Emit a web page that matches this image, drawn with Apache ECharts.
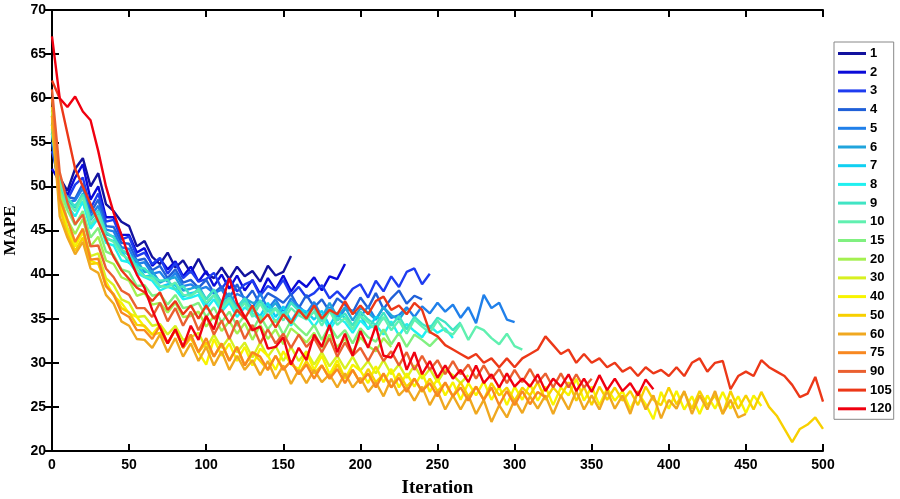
<!DOCTYPE html>
<html><head><meta charset="utf-8">
<script src="https://cdn.jsdelivr.net/npm/echarts@6/dist/echarts.min.js"></script>
<style>html,body{margin:0;padding:0;background:#fff}#c{width:900px;height:499px}</style>
</head><body><div id="c"></div>
<script>
// Iteration spacing between samples
const STEP = 5;
const legendNames = ['1','2','3','4','5','6','7','8','9','10','15','20','30','40','50','60','75','90','105','120'];
const xTicks = [0,50,100,150,200,250,300,350,400,450,500];
const yTicks = [20,25,30,35,40,45,50,55,60,65,70];
const colors = ['#12129e','#0a0ad8','#1e3cf0','#2060d8','#2080ea','#20a4dc','#10d0f2','#20f0f0','#40e4c4','#60f0b0','#80f080','#a4f050','#d8f020','#f8f400','#f8d000','#f0a820','#f88820','#ea6030','#ec3818','#f00010'];

const s1 = [55,51,49.5,52,53.2,50,51.5,48,47.2,46,45.5,43.2,43.8,42,41.2,42.5,40.8,41.6,40.2,41.8,40.1,39.6,40.8,39.5,40.9,39.8,40.4,39.2,41,39.9,40.3,42.1];
const s2 = [52,50.5,49,51,52.5,48.5,50,46.5,46.5,44.5,44.5,42.5,43,41,41.8,40.6,41.5,39.8,40.9,39.2,40.4,38.7,40,38.4,39.9,38.2,39.4,37.8,39.6,38.3,39.9,38.1,39.3,38.6,39.7,38.2,39.8,39.5,41.2];
const s3 = [54,50.5,48.5,50.2,51,47.5,49.2,46,46.2,44,44.3,42.1,42.5,41.2,41.9,40.1,41.3,39.6,40.4,39.2,39.5,40.2,38.4,39.6,38.1,38.9,39.3,37.6,38.7,38.2,39.4,37.7,38.6,37.4,37.9,38.8,37.3,38.1,37.2,38.4,38.9,37.4,39.3,38.1,39.8,38.6,40.3,40.7,38.9,40.1];
const s4 = [55,49,48.8,48.6,50.3,47,48.5,45.5,45.4,43.6,43.5,41.6,41.8,40.5,41,39.6,40.6,39.1,39.4,38.5,39.4,37.9,38.7,37.3,38.9,37.1,38.2,36.6,37.9,37.4,36.8,37.8,36.2,37.7,36.3,37.2,35.8,37.3,36.6,35.7,37.4,36.2,37.9,36.1,37.3,38.2,36.7,37.6,37.2];
const s5 = [56,49.5,48.2,48.4,49.8,46.6,47.8,45.1,44.9,43.1,42.9,41.2,41.4,40.1,40.3,39.2,40.2,38.7,38.9,38.3,38.6,37.9,38.3,36.9,37.8,37.4,36.2,37.9,36.1,37.2,35.7,37.3,36.4,35.6,36.9,35.2,36.3,34.8,36.1,35.9,35.2,36.4,34.9,36.3,35.1,35.4,36.3,35.2,36.4,35.6,36.8,35.8,36.6,35.1,36.3,34.5,37.7,36.2,36.8,34.9,34.6];
const s6 = [56,49.8,48.3,47.6,49.2,46.2,47.3,44.6,44.3,42.8,42.2,41.6,40.3,40.4,39.1,39.5,39.7,38.2,38.4,38.7,37.2,38.3,36.8,37.9,36.3,37.3,36.8,36.9,35.8,36.8,35.4,36.9,36.2,35.3,36.4,35.1,36.8,35.2,36.3,34.8,36.2,35.7,34.9,36.3,35.4,34.9,36.1];
const s7 = [57,50.2,47.6,47.9,48.2,45.6,46.8,44.1,43.8,42.7,41.3,41.2,39.8,39.9,38.6,38.9,38.8,37.5,37.9,38.1,36.6,37.7,36.2,37.4,35.8,36.9,36.1,35.3,36.8,35.2,36.4,34.7,36.1,35.8,34.9,35.9,34.2,35.7,35.1,34.3,35.4,33.8,35.2,34.9];
const s8 = [56.5,49.6,47.8,46.6,48.3,45.2,46.4,43.6,43.3,41.6,41.4,40.2,39.7,39.3,38.2,38.6,38.3,37.2,37.4,37.7,36.1,37.2,35.8,36.8,35.2,36.3,35.6,34.8,36.2,34.6,35.8,34.2,35.7,35.3,34.1,35.4,33.7,35.1,34.6,33.4,34.8,33.9,34.3,33.2,34.7,33.1,34.4,33.6,32.9,34.2,33.4,33.9,32.8];
const s9 = [57,50.1,48.7,47.7,49.1,46.3,47.2,44.8,44.2,42.8,42.3,40.8,40.7,39.8,39.3,39.4,38.3,38.7,37.6,38.4,37.2,38.3,36.6,37.4,36.1,37.3,35.8,37.1,35.9,36.2,35.3,36.8,35.9,35.4,36.2,34.7,36.1,34.8,35.6,34.2,35.8,34.9,34.3,35.7,34.2,35.3,33.8,35.2,34.4,33.9,35.1,34.6,33.7,34.6];
const s10 = [56,50.6,48.2,47.2,48.8,45.7,46.7,44.2,43.7,42.3,41.7,40.6,39.8,39.6,38.7,38.6,39.1,37.7,37.6,38.2,36.8,37.7,36.2,37.1,35.7,36.8,35.2,36.7,35.3,36.1,34.8,36.2,35.4,34.9,35.8,34.2,35.9,34.3,35.1,33.8,35.3,34.6,33.8,35.2,33.7,34.8,33.3,34.9,34.1,33.4,34.8,33.6,33.2,34.4,32.6,34.1,33.7,32.8,32.1,33.3,31.9,31.5];
const s15 = [58,49.6,47.3,45.6,47.2,44.2,45.3,42.6,42.2,40.6,40.3,38.7,38.8,37.6,37.8,36.6,37.7,36.2,36.4,36.8,35.2,36.3,34.6,35.8,34.2,35.4,33.6,35.3,33.8,34.9,33.2,34.8,33.9,33.1,34.3,32.6,34.2,32.8,33.7,32.2,33.9,32.9,32.4,33.8,32.1,33.4,31.8,33.2,32.6,31.9,32.8];
const s20 = [58.5,49.2,46.2,44.6,46.3,43.2,44.3,41.6,41.2,39.7,39.3,37.6,37.9,36.6,36.8,35.7,36.8,35.2,35.3,35.8,34.1,35.3,33.6,34.7,33.3,34.5,32.6,34.3,32.7,33.8,32.1,33.9,33.2,32.3,33.4,31.7,33.2,31.8,32.7,31.2,32.9,31.9,31.3,32.8,31.8];
const s30 = [59,48.6,45.3,43.6,45.2,42.1,42.4,39.6,38.8,37.2,36.8,35.2,35.3,34.2,34.4,33.2,34.2,32.6,32.9,33.4,31.6,33.2,31.7,32.9,31.2,32.3,30.6,32.3,30.7,31.9,30.2,31.8,30.2,31.3,29.8,31.2,29.6,30.8,29.3,30.7,29.1,30.2,28.8,30.3,28.7,29.8,28.3,29.7,28.2,29.3,27.8,29.2,28.6,27.7,28.6];
const s40 = [58,48.2,44.8,43.2,44.8,41.6,41.2,39.2,37.6,36.8,35.6,35.2,34.1,
  33.2,34.3,32.2,33.8,31.7,33.1,31.2,29.8,32.7,30.8,
  32.2,30.2,31.8,29.7,31.6,30.8,29.2,31.3,29.8,29.3,
  31.2,29.2,30.8,28.7,30.3,28.2,29.8,29.1,27.7,29.6,
  27.8,29.3,27.2,28.8,27.3,28.9,26.7,28.2,26.3,27.8,
  25.8,27.7,26.3,27.9,25.8,27.3,25.2,27.3,25.8,27.6,
  25.7,27.3,25.2,27.2,26.3,28.2,25.7,27.3,25.2,27.1,
  25.7,26.8,24.7,26.6,25.3,23.6,26.7,24.8,26.8,24.7,
  26.2,24.2,26.3,24.8,26.7,24.8,26.2,24.3,26.3,25.1];
const s50 = [57,47.6,44.6,42.7,44.2,41.2,41.3,38.7,37.8,36.2,35.7,34.3,34.2,
  33.2,33.4,32.2,33.7,31.7,32.8,31.2,32.3,30.7,32.2,
  30.3,31.8,29.7,31.2,30.2,29.2,30.8,29.3,30.2,28.7,
  30.2,28.8,29.7,28.2,29.8,28.3,29.2,27.7,29.3,27.8,
  28.7,27.2,28.8,27.3,28.2,26.7,28.2,26.8,27.7,26.2,
  27.8,26.2,27.3,25.8,27.7,26.3,27.2,25.7,27.2,26.3,
  27.8,25.8,27.2,26.2,27.8,25.7,27.3,25.2,27.3,25.8,
  27.2,25.7,26.8,25.2,27.3,25.8,25.2,27.2,25.3,26.7,
  24.8,26.8,25.2,26.3,24.2,26.8,24.8,26.3,24.7,26.7,
  25,24,22.5,21,22.5,23,23.8,22.5];
const s60 = [58,46.6,44.2,42.3,43.7,40.7,40.2,37.7,36.7,34.7,34.2,32.7,32.6,
  31.7,33.2,31.2,32.8,30.7,32.2,30.2,31.8,29.7,31.3,
  29.2,30.8,29.2,30.3,28.6,30.2,28.2,29.7,27.6,29.2,
  27.7,29.2,27.8,28.7,27.2,28.8,27.2,28.3,26.7,27.8,
  26.2,28.2,26.3,27.2,25.7,27.3,25.2,26.8,24.7,26.3,
  24.7,26.3,24.2,25.8,23.3,25.2,23.8,25.8,24.3,26.2,
  24.8,26.3,24.2,26.3,24.7,26.8,24.7,26.3,24.7,26.8,
  24.8,26.3,24.2,26.8,24.7,26.3,23.7,25.8,24.8,26.8,
  24.2,26.3,24.7,26.8,24.2,25.8,23.8,24.2];
const s75 = [60,48.6,46.2,43.7,45.2,41.7,41.8,38.7,37.7,35.7,35.2,33.7,33.7,
  32.7,34.2,32.2,33.8,31.7,33.2,31.2,32.8,30.7,32.2,
  30.2,31.8,29.7,31.2,30.7,29.2,30.8,29.2,30.2,28.7,
  29.8,28.2,29.7,28.2,29.3,27.7,29.2,27.7,28.8,27.2,
  28.8,27.2,28.3,26.7,28.2,26.8,27.7,26.2,27.8,26.2,
  27.2,25.7,27.3,25.8,27.2,25.2,26.8,25.2,26.8,25.3,
  26.7,26.1];
const s90 = [61,51.6,48.2,45.7,46.8,43.2,43.3,40.7,39.7,38.2,37.7,36.2,36.2,
  35.2,36.8,34.7,36.2,34.2,35.8,33.7,35.3,33.2,34.8,
  32.7,34.8,32.7,34.3,32.2,33.8,32.2,33.3,31.7,33.2,
  31.8,32.8,31.2,32.8,30.7,32.3,30.8,31.7,30.2,31.8,
  30.2,31.3,29.7,31.2,29.2,30.8,29.2,30.3,28.7,30.2,
  28.7,29.8,28.2,29.7,28.2,29.3,27.7,29.2,27.8,29.3,
  27.7,28.8,27.2,28.8,27.2,28.7,27.2,28.2];
const s105 = [62,60,56,52,50,48,46,44,42,40.5,39.5,38.5,38,
  37,38,36,37,35.5,36.5,35,36.5,35,36,
  34.5,36,35,36.5,34.5,35.5,34,35.5,34.5,36,
  35,36.5,35,36,35.5,37,35.5,36.5,35.5,37,
  37.5,36,36.5,35.5,36.8,36,33.5,33,32,31.5,
  31,30.5,31,30,30.5,29.5,30.5,29.5,30.5,31,
  31.5,33,32,31,31.5,30,31,30,30.5,29.5,
  30,29,29.5,28.5,29.5,28.8,29.2,28.5,29.5,28.5,
  30,30.5,29,30,30.2,27,28.5,29,28.5,30.3,
  29.5,29,28.5,27.5,26.1,26.5,28.4,25.6];
const s120 = [67,60,59,60.2,58.5,57.5,54,50,47,44.5,42,40,38.5,
  36,34,32.2,33.8,31.8,34.2,32.6,35.3,33.8,36.7,
  39.6,36.8,35.2,33.7,34.1,31.6,31.8,32.9,29.8,31.7,
  30.3,33.2,31.8,34.3,31.2,33.3,30.8,33.6,31.7,34.2,
  30.8,30.6,32.3,29.2,31.2,28.7,30.2,28.3,29.7,28.2,
  29.2,27.8,29.7,27.7,28.7,27.2,28.8,27.3,28.2,27.3,
  28.7,26.8,28.2,27.3,28.7,26.8,28.2,26.7,28.6,26.9,
  28.2,26.8,27.7,26.3,28.1,27];

const seriesValues = [s1,s2,s3,s4,s5,s6,s7,s8,s9,s10,s15,s20,s30,s40,s50,s60,s75,s90,s105,s120];

const chart = echarts.init(document.getElementById('c'), null, {renderer:'canvas'});
const axisLineStyle = {color:'#000', width:2};
const series = seriesValues.map((vals, k) => ({
  name: legendNames[k],
  type: 'line',
  xAxisIndex: 0, yAxisIndex: 0,
  showSymbol: false, symbol: 'none',
  lineStyle: {width: 2.4, color: colors[k]},
  itemStyle: {color: colors[k]},
  data: vals.map((v, i) => [i * STEP, v]),
  animation: false
}));

chart.setOption({
  animation: false,
  backgroundColor: '#fff',
  grid: {left: 52, right: 77, top: 10, bottom: 48, containLabel: false, outerBoundsMode: 'none'},
  legend: {
    orient: 'vertical', left: 834, top: 42,
    data: legendNames,
    icon: 'rect', itemWidth: 28, itemHeight: 3, itemGap: 5.7,
    borderColor: '#888', borderWidth: 1,
    padding: [5, 2, 4, 4],
    backgroundColor: '#fff',
    textStyle: {fontFamily: 'Liberation Sans, Arial', fontWeight: 'bold', fontSize: 13, color: '#000', padding: [0,0,0,-1]}
  },
  xAxis: [{
    type: 'value', min: xTicks[0], max: xTicks[xTicks.length-1], interval: 50,
    name: 'Iteration', nameLocation: 'middle', nameGap: 28,
    nameTextStyle: {fontFamily: 'Liberation Serif, Times New Roman', fontWeight: 'bold', fontSize: 19, color: '#000'},
    axisLine: {show: true, lineStyle: axisLineStyle},
    axisTick: {show: true, inside: true, length: 7, lineStyle: {color:'#000', width: 2}},
    axisLabel: {fontFamily: 'Liberation Sans, Arial', fontWeight: 'bold', fontSize: 14, color: '#000', margin: 7},
    splitLine: {show: false}
  }, {
    type: 'value', position: 'top', min: xTicks[0], max: xTicks[xTicks.length-1], interval: 50,
    axisLine: {show: true, lineStyle: axisLineStyle},
    axisTick: {show: true, inside: true, length: 7, lineStyle: {color:'#000', width: 2}},
    axisLabel: {show: false}, splitLine: {show: false}
  }],
  yAxis: [{
    type: 'value', min: yTicks[0], max: yTicks[yTicks.length-1], interval: 5,
    name: 'MAPE', nameLocation: 'middle', nameGap: 29, nameRotate: 90,
    nameTextStyle: {fontFamily: 'Liberation Serif, Times New Roman', fontWeight: 'bold', fontSize: 17, color: '#000'},
    axisLine: {show: true, lineStyle: axisLineStyle},
    axisTick: {show: true, inside: true, length: 7, lineStyle: {color:'#000', width: 2}},
    axisLabel: {fontFamily: 'Liberation Sans, Arial', fontWeight: 'bold', fontSize: 14, color: '#000', margin: 6},
    splitLine: {show: false}
  }, {
    type: 'value', position: 'right', min: yTicks[0], max: yTicks[yTicks.length-1], interval: 5,
    axisLine: {show: true, lineStyle: axisLineStyle},
    axisTick: {show: true, inside: true, length: 7, lineStyle: {color:'#000', width: 2}},
    axisLabel: {show: false}, splitLine: {show: false}
  }],
  series: series
});
</script></body></html>
